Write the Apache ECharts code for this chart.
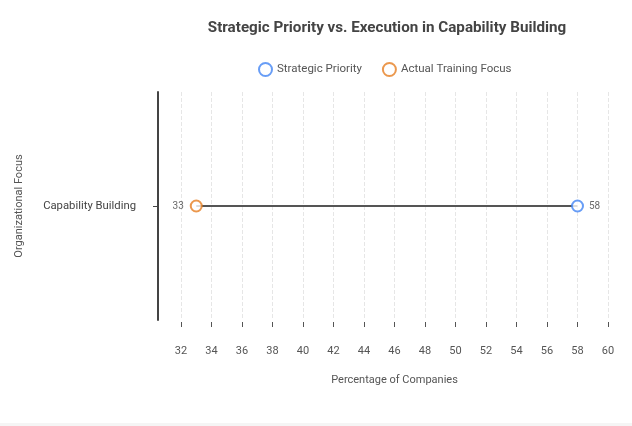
<!DOCTYPE html>
<html>
<head>
<meta charset="utf-8">
<script src="https://cdn.jsdelivr.net/npm/echarts@6/dist/echarts.min.js"></script>
<style>
  html, body { margin: 0; padding: 0; background: #f5f5f5; }
  #chart { width: 632px; height: 423px; background: #fff; }
</style>
</head>
<body>
<div id="chart"></div>
<script>
const categories = ['Capability Building'];
const strategicPriority = [58];
const actualTrainingFocus = [33];
const xTicks = { min: 32, max: 60, interval: 2 };

const chart = echarts.init(document.getElementById('chart'));
chart.setOption({
    textStyle: { fontFamily: 'Roboto' },
    title: {
        text: 'Strategic Priority vs. Execution in Capability Building',
        left: 382,
        textAlign: 'center',
        top: 16,
        textStyle: { fontSize: 15.2, fontWeight: 'bold', color: '#444' }
    },
    legend: {
        data: ['Strategic Priority', 'Actual Training Focus'],
        top: 57,
        left: 253,
        icon: 'circle',
        itemWidth: 13,
        itemHeight: 13,
        itemGap: 20,
        textStyle: { fontSize: 11.5, color: '#555' }
    },
    grid: { left: 181, right: 24, top: 92, bottom: 103 },
    xAxis: {
        type: 'value',
        min: xTicks.min,
        max: xTicks.max,
        interval: xTicks.interval,
        offset: 2,
        name: 'Percentage of Companies',
        nameLocation: 'middle',
        nameGap: 53,
        nameTextStyle: { fontSize: 11, color: '#555' },
        axisLine: { show: false },
        axisTick: { show: true, length: 5, lineStyle: { color: '#555' } },
        axisLabel: { fontSize: 11, color: '#555', margin: 24 },
        splitLine: { show: true, lineStyle: { type: 'dashed', color: '#e6e6e6' } }
    },
    yAxis: {
        type: 'category',
        data: categories,
        offset: 23,
        name: 'Organizational Focus',
        nameLocation: 'middle',
        nameGap: 133,
        nameTextStyle: { fontSize: 11, color: '#555' },
        axisLine: { show: true, lineStyle: { color: '#444', width: 2 } },
        axisTick: { show: true, alignWithLabel: true, lineStyle: { color: '#444' } },
        axisLabel: { fontSize: 11.3, color: '#444', margin: 22 }
    },
    series: [
        {
            name: 'connector',
            type: 'line',
            data: categories.map((c, i) => [actualTrainingFocus[i], c]).concat(
                categories.map((c, i) => [strategicPriority[i], c])),
            symbol: 'none',
            lineStyle: { color: '#555', width: 2 },
            z: 1,
            silent: true
        },
        {
            name: 'Strategic Priority',
            type: 'scatter',
            data: categories.map((c, i) => [strategicPriority[i], c]),
            symbol: 'circle',
            symbolSize: 11,
            itemStyle: { color: '#fff', borderColor: '#4285f4', borderWidth: 2 },
            label: { show: true, position: 'right', distance: 5, fontSize: 10, color: '#444',
                formatter: p => p.value[0] },
            z: 3
        },
        {
            name: 'Actual Training Focus',
            type: 'scatter',
            data: categories.map((c, i) => [actualTrainingFocus[i], c]),
            symbol: 'circle',
            symbolSize: 11,
            itemStyle: { color: '#fff', borderColor: '#e67e22', borderWidth: 2 },
            label: { show: true, position: 'left', distance: 6, fontSize: 10, color: '#444',
                formatter: p => p.value[0] },
            z: 3
        }
    ]
});
</script>
</body>
</html>
